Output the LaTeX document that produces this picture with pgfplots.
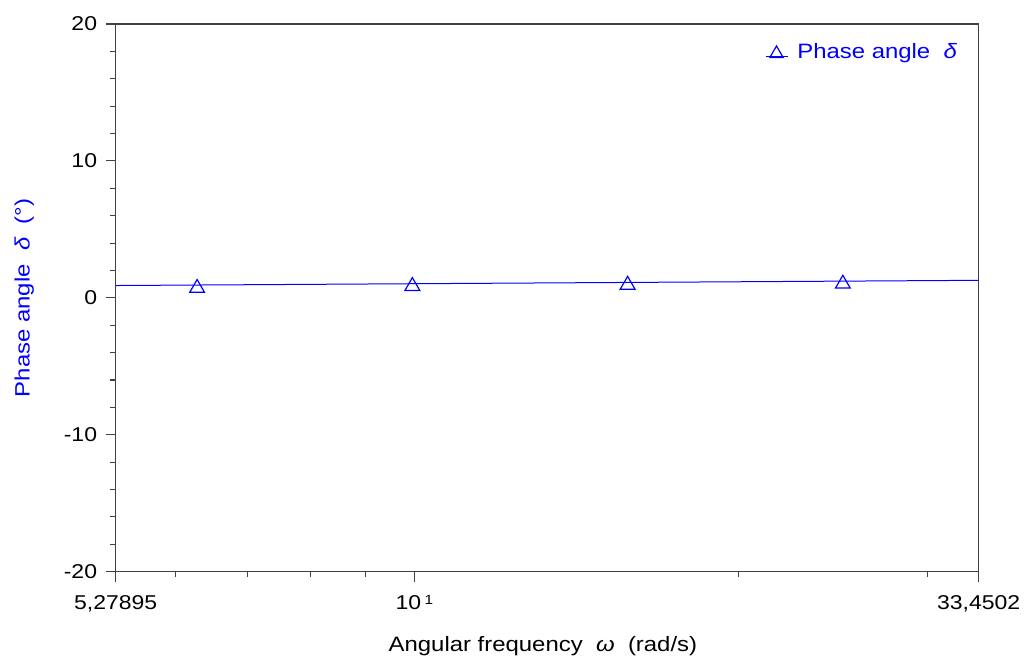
\documentclass[border=0pt]{standalone}
\usepackage{fontspec}
\setmainfont[FakeStretch=1.15]{Liberation Sans}
\usepackage{pgfplots}
\pgfplotsset{compat=1.18}
\definecolor{pblue}{RGB}{0,0,255}
\definecolor{axgray}{RGB}{64,64,64}
\begin{document}
\begin{tikzpicture}
\path[use as bounding box] (-86.8pt,-65.5pt) rectangle (685.75pt,428.8pt);
\begin{axis}[
  scale only axis,
  width=647.25pt, height=410.8pt,
  at={(0,0)}, anchor=south west,
  xmode=log, log basis x=10,
  xmin=5.27895, xmax=33.4502,
  ymin=-20, ymax=20,
  xtick={5.27895,10,33.4502},
  xticklabels={{5,27895},{10\,\raisebox{0.4ex}{\fontsize{10}{12}\selectfont 1}},{33,4502}},
  minor xtick={6,7,8,9,20,30},
  ytick={-20,-10,0,10,20},
  minor ytick={-18,-16,-14,-12,-8,-6,-4,-2,2,4,6,8,12,14,16,18},
  tick align=outside,
  tick pos=left,
  major tick length=7.5pt,
  minor tick length=4pt,
  axis line style={axgray, line width=0.8pt},
  every tick/.style={axgray, line width=0.8pt},
  /pgf/number format/assume math mode=true,
  yticklabel style={font=\fontsize{15}{17}\selectfont, xshift=-3pt},
  xticklabel style={font=\fontsize{15}{17}\selectfont, yshift=-6.5pt},
  xlabel={Angular frequency \ \textit{ω} \ (rad/s)},
  xlabel style={font=\fontsize{15.6}{19}\selectfont, at={(axis description cs:0.495,-0.135)}, anchor=center},
  ylabel={Phase angle \ \textit{δ} \ (°)},
  ylabel style={font=\fontsize{15.6}{19}\selectfont, text=pblue, at={(axis description cs:-0.1060,0.5)}, anchor=center},
  legend style={at={(0.983,0.975)}, anchor=north east, draw=none, fill=none,
    font=\fontsize{15.6}{19}\selectfont, text=pblue},
  legend cell align=left,
  clip=false,
]
\addplot[pblue, line width=0.75pt, mark=none, forget plot] coordinates {
  (5.27895,0.90) (33.4502,1.28)
};
\addplot[only marks, mark=triangle, mark size=6.4pt,
  mark options={pblue, fill=white, line width=0.9pt, yshift=-1.6pt},
  legend image code/.code={
    \draw[pblue, line width=0.7pt] (0.02cm,-0.12cm) -- (0.6cm,-0.12cm);
    \draw[pblue, line width=0.9pt, mark=triangle, mark size=5.8pt, mark options={pblue}] plot coordinates {(0.31cm,-0.05cm)};
  }] coordinates {
  (6.283,0.87) (9.958,1.01) (15.783,1.10) (25.013,1.18)
};
\addlegendentry{\hspace{5pt}Phase angle \ \textit{δ}}
\end{axis}
\end{tikzpicture}
\end{document}
